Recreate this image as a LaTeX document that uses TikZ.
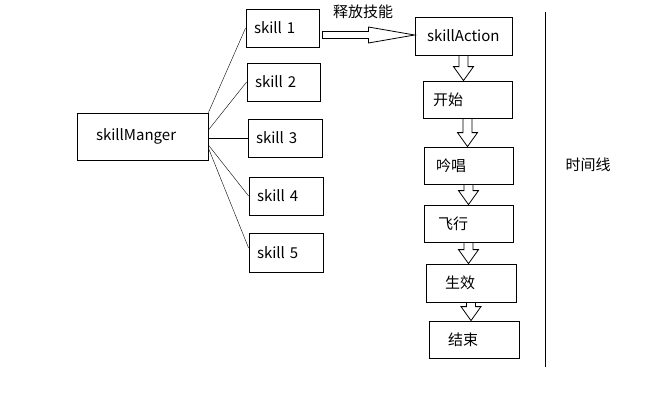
\documentclass[tikz,border=0pt]{standalone}
\usepackage{fontspec}
\setmainfont{Noto Sans CJK SC}
\usetikzlibrary{calc}
\tikzset{
  box/.style={draw, line width=0.8pt, inner ysep=0pt, align=left},
  hollow/.style={draw, line width=0.8pt, fill=white, line join=miter},
  link/.style={line width=0.6pt}
}
% hollow block arrow pointing down from #1 to #2
\newcommand\blockdown[2]{%
  \path (#1.south) coordinate (bt) (#1.south |- #2.north) coordinate (bh);
  \draw[hollow] ($(bt)+(-4.5,0)$) -- ($(bh)+(-4.5,-14)$) -- ($(bh)+(-10,-14)$)
    -- (bh) -- ($(bh)+(10,-14)$) -- ($(bh)+(4.5,-14)$) -- ($(bt)+(4.5,0)$) -- cycle;
}
\begin{document}
\begin{tikzpicture}[x=1pt, y=-1pt, font=\fontsize{15}{17}\selectfont]
\useasboundingbox (0,0) rectangle (670,402);

\draw (142.5,136.5) node[box, minimum height=47pt, inner xsep=19pt, text width=93pt](mgr) {skillManger};

\draw (282.5,28.0) node[box, minimum height=38pt, inner xsep=8pt, text width=57pt](s1) {skill 1};
\draw (283.5,82.0) node[box, minimum height=38pt, inner xsep=8pt, text width=57pt](s2) {skill 2};
\draw (285.0,138.0) node[box, minimum height=38pt, inner xsep=8pt, text width=58pt](s3) {skill 3};
\draw (286.0,196.0) node[box, minimum height=38pt, inner xsep=8pt, text width=58pt](s4) {skill 4};
\draw (286.0,252.5) node[box, minimum height=39pt, inner xsep=8pt, text width=58pt](s5) {skill 5};

\draw (mgr.north east) -- (s1.west);
\draw ([yshift=6.5pt]mgr.east) -- (s2.west);
\draw (mgr.east |- s3.west) -- (s3.west);
\draw ([yshift=-8.5pt]mgr.east) -- (s4.west);
\draw ([yshift=-11.5pt]mgr.east) -- ([yshift=4.5pt]s5.west);

\draw (463.5,36.0) node[box, minimum height=38pt, inner xsep=12pt, text width=73pt](act) {skillAction};
\draw (467.5,99.5) node[box, minimum height=37pt, inner xsep=10pt, text width=69pt](begin) {开始};
\draw (468.5,165.5) node[box, minimum height=37pt, inner xsep=12pt, text width=65pt](chant) {吟唱};
\draw (468.5,223.5) node[box, minimum height=37pt, inner xsep=14pt, text width=61pt](fly) {飞行};
\draw (471.0,283.0) node[box, minimum height=38pt, inner xsep=19pt, text width=52pt](hit) {生效};
\draw (474.0,339.5) node[box, minimum height=37pt, inner xsep=19pt, text width=52pt](finish) {结束};

% release arrow
\path ([shift={(3pt,-7pt)}]s1.east) coordinate (rt) (rt -| act.west) coordinate (rh);
\draw[hollow] ($(rt)+(0,-3.5)$) -- ($(rt)+(46,-3.5)$) -- ($(rt)+(46,-8)$) -- (rh)
  -- ($(rt)+(46,8)$) -- ($(rt)+(46,3.5)$) -- ($(rt)+(0,3.5)$) -- cycle;
\draw (363,12) node(release) {释放技能};

\blockdown{act}{begin}
\blockdown{begin}{chant}
\blockdown{chant}{fly}
\blockdown{fly}{hit}
\blockdown{hit}{finish}

\coordinate (ltop) at (545,12);
\coordinate (lbot) at (545,367);
\draw[line width=0.8pt] (ltop) -- (lbot);
\draw (588,165) node(timeline) {时间线};
\end{tikzpicture}
\end{document}
